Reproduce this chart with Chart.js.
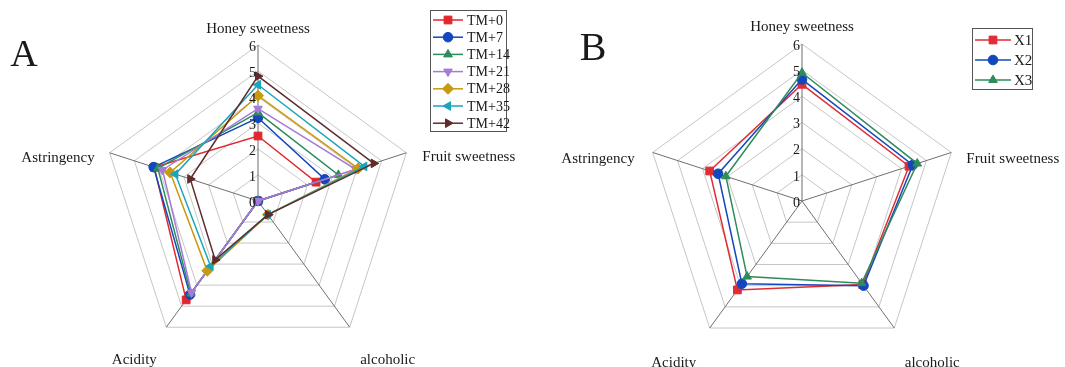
<!DOCTYPE html>
<html>
<head>
<meta charset="utf-8">
<script src="https://cdn.jsdelivr.net/npm/chart.js@4/dist/chart.umd.min.js"></script>
<style>
  body { margin: 0; background: #fff; width: 1065px; height: 367px; overflow: hidden; position: relative; }
  #chartA { position: absolute; left: 0; top: 0; }
  #chartB { position: absolute; left: 532px; top: 0; }
</style>
</head>
<body>
<canvas id="chartA" width="532" height="367"></canvas>
<canvas id="chartB" width="533" height="367"></canvas>
<script>
// axes, clockwise from the top
const attributes = ["Honey sweetness", "Fruit sweetness", "alcoholic", "Acidity", "Astringency"];
const scaleTicks = [0, 1, 2, 3, 4, 5, 6];

// panel A - storage time
const seriesA = ["TM+0", "TM+7", "TM+14", "TM+21", "TM+28", "TM+35", "TM+42"];
const tm0 = [2.5, 2.35, 0, 4.7, 4.2];
const tm7 = [3.2, 2.7, 0, 4.45, 4.22];
const tm14 = [3.4, 3.25, 0, 4.4, 4.05];
const tm21 = [3.55, 3.95, 0, 4.35, 3.86];
const tm28 = [4.05, 4.05, 0.65, 3.32, 3.55];
const tm35 = [4.47, 4.3, 0.65, 3.1, 3.34];
const tm42 = [4.8, 4.68, 0.65, 2.8, 2.74];

// panel B
const seriesB = ["X1", "X2", "X3"];
const x1 = [4.46, 4.3, 3.95, 4.2, 3.71];
const x2 = [4.65, 4.45, 4.0, 3.91, 3.37];
const x3 = [4.9, 4.63, 3.88, 3.57, 3.06];

const SERIF = '"Liberation Serif", "Times New Roman", serif';

function ds(label, data, color, style, rot, rad, n, i) {
  return {
    label: label,
    data: data,
    borderColor: color,
    backgroundColor: color,
    borderWidth: 1.5,
    fill: false,
    tension: 0,
    pointStyle: style,
    pointRotation: rot,
    pointRadius: rad,
    pointBorderWidth: 1,
    order: n - i
  };
}

// labels, ticks, legend and panel letter
const extras = {
  id: "extras",
  afterDraw(chart, args, o) {
    const ctx = chart.ctx;
    const r = chart.scales.r;
    ctx.save();
    ctx.fillStyle = "#1a1a1a";

    ctx.font = "14px " + SERIF;
    ctx.textAlign = "right";
    ctx.textBaseline = "middle";
    r.ticks.forEach(t => {
      const d = r.getDistanceFromCenterForValue(t.value);
      ctx.fillText(String(t.label), r.xCenter - 2, r.yCenter - d + 2);
    });

    ctx.font = "15px " + SERIF;
    chart.data.labels.forEach((lab, i) => {
      const p = r.getPointPositionForValue(i, r.max);
      const off = o.labelOffsets[i];
      ctx.textAlign = off[2];
      ctx.fillText(lab, p.x + off[0], p.y + off[1]);
    });

    ctx.font = o.letterSize + "px " + SERIF;
    ctx.textAlign = "center";
    ctx.fillText(o.letter, o.letterPos[0], o.letterPos[1]);

    const lg = o.legend;
    ctx.strokeStyle = "#555";
    ctx.lineWidth = 1;
    ctx.strokeRect(lg.x, lg.y, lg.w, lg.h);
    ctx.font = lg.font + "px " + SERIF;
    ctx.textAlign = "left";
    chart.data.datasets.forEach((d, i) => {
      const y = lg.y0 + i * lg.step;
      ctx.strokeStyle = d.borderColor;
      ctx.fillStyle = d.borderColor;
      ctx.lineWidth = 1.5;
      ctx.beginPath();
      ctx.moveTo(lg.lx0, y);
      ctx.lineTo(lg.lx1, y);
      ctx.stroke();
      ctx.lineWidth = 1;
      Chart.helpers.drawPoint(ctx, { pointStyle: d.pointStyle, rotation: d.pointRotation, radius: d.pointRadius, borderWidth: 1 }, (lg.lx0 + lg.lx1) / 2, y);
      ctx.fillStyle = "#1a1a1a";
      ctx.fillText(d.label, lg.tx, y + 1);
    });
    ctx.restore();
  }
};

function radarOptions(pad, extraOpts) {
  return {
    responsive: false,
    animation: false,
    events: [],
    layout: { padding: pad },
    plugins: { legend: { display: false }, tooltip: { enabled: false }, extras: extraOpts },
    scales: {
      r: {
        min: 0,
        max: 6,
        ticks: { display: false, stepSize: 1 },
        grid: { color: "#c6c6c6", lineWidth: 1 },
        angleLines: { color: "#6f6f6f", lineWidth: 1 },
        pointLabels: { display: false }
      }
    }
  };
}

const colorsA = ["#e2262e", "#1247bd", "#2e8b5a", "#a67bd8", "#c99a0e", "#1aa5bb", "#612b2b"];
const stylesA = [["rect", 0, 5.5], ["circle", 0, 4.8], ["triangle", 0, 5], ["triangle", 180, 5], ["rectRot", 0, 5.5], ["triangle", -90, 5], ["triangle", 90, 5]];
const valuesA = [tm0, tm7, tm14, tm21, tm28, tm35, tm42];

new Chart(document.getElementById("chartA"), {
  type: "radar",
  data: {
    labels: attributes,
    datasets: seriesA.map((s, i) => ds(s, valuesA[i], colorsA[i], stylesA[i][0], stylesA[i][1], stylesA[i][2], seriesA.length, i))
  },
  options: radarOptions({ left: 102, right: 118, top: 45, bottom: 10 }, {
    labelOffsets: [[0, -16, "center"], [16, 4, "left"], [38, 33, "center"], [-32, 33, "center"], [-15, 5, "right"]],
    letter: "A", letterSize: 38, letterPos: [24, 56],
    legend: { x: 430.5, y: 10.5, w: 76, h: 121, y0: 20, step: 17.2, lx0: 433, lx1: 463, tx: 467, font: 14 }
  }),
  plugins: [extras]
});

const colorsB = ["#e02d33", "#1247bd", "#2e8b5a"];
const stylesB = [["rect", 0, 5.5], ["circle", 0, 4.8], ["triangle", 0, 5]];
const valuesB = [x1, x2, x3];

new Chart(document.getElementById("chartB"), {
  type: "radar",
  data: {
    labels: attributes,
    datasets: seriesB.map((s, i) => ds(s, valuesB[i], colorsB[i], stylesB[i][0], stylesB[i][1], stylesB[i][2], seriesB.length, i))
  },
  options: radarOptions({ left: 113, right: 106, top: 44, bottom: 9 }, {
    labelOffsets: [[0, -17, "center"], [15, 7, "left"], [38, 35, "center"], [-36, 35, "center"], [-18, 7, "right"]],
    letter: "B", letterSize: 40, letterPos: [61, 49],
    legend: { x: 440.5, y: 28.5, w: 60, h: 61, y0: 40, step: 20, lx0: 443, lx1: 479, tx: 482, font: 15 }
  }),
  plugins: [extras]
});
</script>
</body>
</html>
